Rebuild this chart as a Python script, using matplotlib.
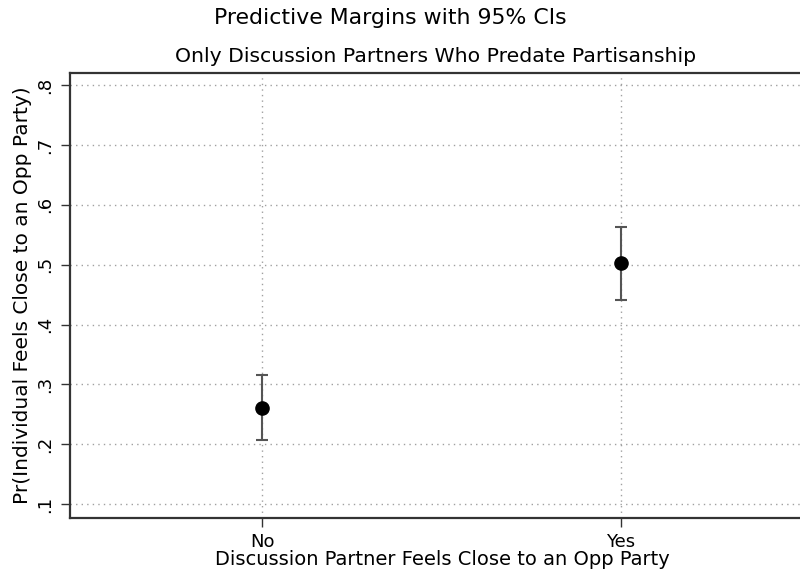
import matplotlib.pyplot as plt
import numpy as np

plt.rcParams['font.family'] = ['DejaVu Sans']

# predictive margins
categories = ['No', 'Yes']
margins = [0.261, 0.502]
ci_low = [0.207, 0.441]
ci_high = [0.316, 0.563]
yticks = [0.1, 0.2, 0.3, 0.4, 0.5, 0.6, 0.7, 0.8]
ytick_labels = ['.1', '.2', '.3', '.4', '.5', '.6', '.7', '.8']

x = np.arange(len(categories))
m = np.array(margins)
err = [m - np.array(ci_low), np.array(ci_high) - m]

fig = plt.figure(figsize=(8, 5.78), dpi=100)
ax = fig.add_axes([0.0875, 0.1033, 0.9125, 0.7709])

ax.grid(True, axis='both', linestyle=(0, (1, 3)), color='#a0a0a0', linewidth=1)
ax.set_axisbelow(True)

ax.errorbar(x, m, yerr=err, fmt='o', color='black', markersize=9.5,
            ecolor='#555555', elinewidth=1.5, capsize=4.3, capthick=1.5, zorder=3)

ax.set_xlim(-0.537, 1.5)
ax.set_ylim(0.0766, 0.8205)
ax.set_xticks(x)
ax.set_xticklabels(categories, fontsize=13)
ax.set_yticks(yticks)
ax.set_yticklabels(ytick_labels, fontsize=13, rotation=90, va='center')
ax.tick_params(direction='out', length=6.5, width=1, color='#333333')
ax.tick_params(axis='x', pad=4)
ax.tick_params(axis='y', pad=5)

for side in ['left', 'bottom', 'top']:
    ax.spines[side].set_linewidth(1.6)
    ax.spines[side].set_color('#333333')
ax.spines['right'].set_visible(False)

ax.set_xlabel('Discussion Partner Feels Close to an Opp Party', fontsize=14, va='center')
ax.xaxis.set_label_coords(0.51, -0.0935)
ax.set_ylabel('Pr(Individual Feels Close to an Opp Party)', fontsize=14.5, va='center')
ax.yaxis.set_label_coords(-0.0655, 0.5)

fig.text(390 / 800, 1 - 18 / 578, 'Predictive Margins with 95% CIs', fontsize=15.8,
         ha='center', va='center')
fig.text(436 / 800, 1 - 57 / 578, 'Only Discussion Partners Who Predate Partisanship',
         fontsize=14.7, ha='center', va='center')

fig.savefig('out.png', dpi=100)
